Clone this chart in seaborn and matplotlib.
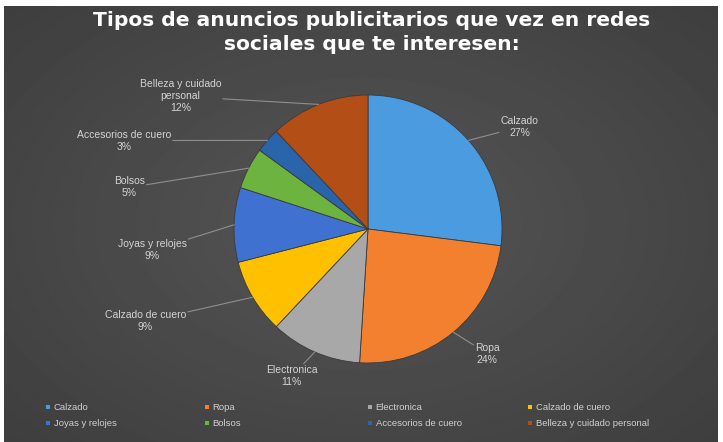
import numpy as np
import matplotlib
matplotlib.use("Agg")
import matplotlib.pyplot as plt
import seaborn as sns
from matplotlib.lines import Line2D

# Survey answers: share of respondents per ad type
categories = ["Calzado", "Ropa", "Electronica", "Calzado de cuero",
              "Joyas y relojes", "Bolsos", "Accesorios de cuero",
              "Belleza y cuidado personal"]
shares = [27, 24, 11, 9, 9, 5, 3, 12]
slice_labels = ["Calzado", "Ropa", "Electronica", "Calzado de cuero",
                "Joyas y relojes", "Bolsos", "Accesorios de cuero",
                "Belleza y cuidado\npersonal"]
title = "Tipos de anuncios publicitarios que vez en redes\nsociales que te interesen:"

colors = ["#4A9BE0", "#F2802E", "#A8A8A8", "#FFC000",
          "#3F72D0", "#6DB33F", "#2A64AA", "#B24E16"]

# Data-label centres, in pie radii measured from the pie centre
label_pos = [(1.13, 0.76), (0.89, -0.93), (-0.57, -1.10), (-1.66, -0.69),
             (-1.61, -0.16), (-1.78, 0.31), (-1.82, 0.66), (-1.40, 0.99)]

sns.set_theme(style="dark")
plt.rcParams["font.family"] = ["Liberation Sans", "DejaVu Sans"]

W, H = 723, 442
fig = plt.figure(figsize=(W / 100, H / 100), dpi=100, facecolor="white")

# Dark chart area with a soft radial shading
bg = fig.add_axes([4 / W, 0, (W - 9) / W, (H - 6) / H])
yy, xx = np.mgrid[0:1:300j, 0:1:500j]
r = np.sqrt(((xx - 0.5) / 0.75) ** 2 + ((yy - 0.5) / 0.8) ** 2)
shade = 0.335 - 0.1 * np.clip(r, 0, 1)
bg.imshow(shade, cmap="gray", vmin=0, vmax=1, aspect="auto",
          extent=[0, 1, 0, 1], interpolation="bilinear")
bg.set_axis_off()

# Pie axes: one data unit equals the pie radius
cx, cy, R = 368, 229, 134
ax = fig.add_axes([0, 0, 1, 1])
ax.patch.set_alpha(0)
wedges, _ = ax.pie(shares, colors=colors, startangle=90, counterclock=False,
                   radius=1, wedgeprops=dict(linewidth=0.6, edgecolor="#3a3a3a"))
ax.set_xlim(-cx / R, (W - cx) / R)
ax.set_ylim(-(H - cy) / R, cy / R)
ax.set_axis_off()

total = sum(shares)
for w, lab, val, pos in zip(wedges, slice_labels, shares, label_pos):
    theta = np.deg2rad((w.theta1 + w.theta2) / 2)
    edge = (np.cos(theta), np.sin(theta))
    ax.annotate(f"{lab}\n{round(val / total * 100)}%", xy=edge, xytext=pos,
                ha="center", va="center", fontsize=7.5, color="#d4d4d4",
                linespacing=1.25,
                bbox=dict(boxstyle="square,pad=0.15", fc="none", ec="none"),
                arrowprops=dict(arrowstyle="-", color="#8f8f8f", lw=0.8,
                                shrinkA=0, shrinkB=0))

fig.text(372 / W, 1 - 11 / H, title, ha="center", va="top", fontsize=14.6,
         fontweight="bold", color="white", family="DejaVu Sans",
         linespacing=1.3)

# Legend: four evenly spaced columns, two rows
col_x = [45, 204, 367, 527]
for c, x in enumerate(col_x):
    idx = [c, c + 4]
    handles = [Line2D([], [], marker="s", linestyle="", markersize=3.5,
                      markerfacecolor=colors[i], markeredgewidth=0)
               for i in idx]
    fig.legend(handles, [categories[i] for i in idx], loc="upper left",
               bbox_to_anchor=(x / W, 1 - 403 / H), frameon=False,
               fontsize=6.8, labelcolor="#d0d0d0", handlelength=0.6,
               handletextpad=0.3, labelspacing=0.75, borderpad=0,
               borderaxespad=0)

fig.savefig("out.png", dpi=100, facecolor="white")
